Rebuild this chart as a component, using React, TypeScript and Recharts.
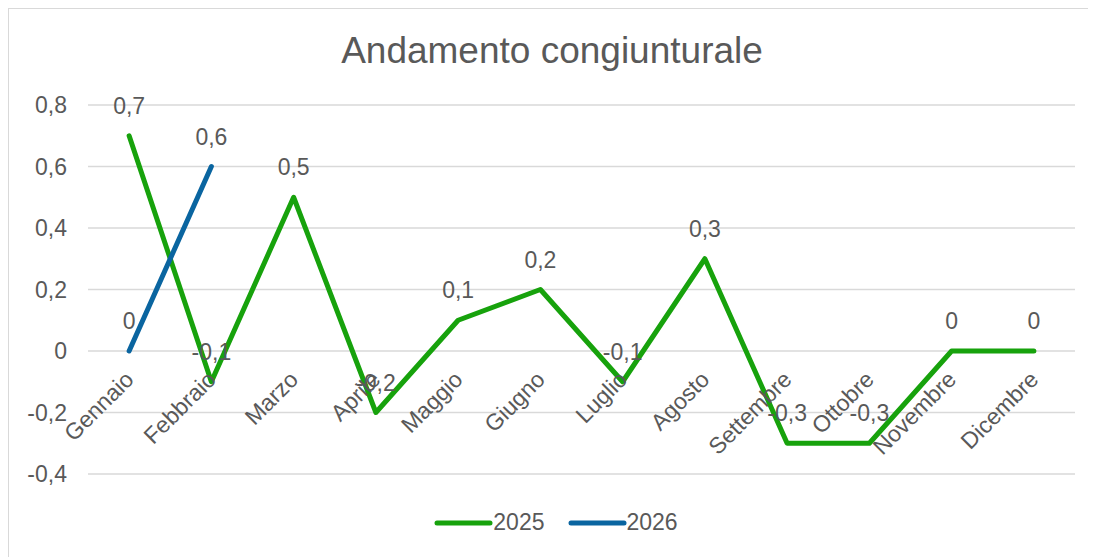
import { LineChart, Line, XAxis, YAxis, CartesianGrid, LabelList, Legend } from 'recharts';

const months = [
  'Gennaio', 'Febbraio', 'Marzo', 'Aprile', 'Maggio', 'Giugno',
  'Luglio', 'Agosto', 'Settembre', 'Ottobre', 'Novembre', 'Dicembre',
];
const values2025 = [0.7, -0.1, 0.5, -0.2, 0.1, 0.2, -0.1, 0.3, -0.3, -0.3, 0, 0];
const values2026: (number | null)[] = [0, 0.6, null, null, null, null, null, null, null, null, null, null];
const yTicks = [-0.4, -0.2, 0, 0.2, 0.4, 0.6, 0.8];

const data = months.map((m, i) => ({ month: m, y2025: values2025[i], y2026: values2026[i] }));

const W = 1086;
const H = 548;
const MARGIN = { top: 96, right: 20, left: 19, bottom: 82 };
const Y_MIN = -0.4;
const Y_MAX = 0.8;
const PLOT_H = H - MARGIN.top - MARGIN.bottom - 1;
// half a category on each side, like Excel's "between tick marks"
const HALF_BAND = (W - MARGIN.left - 60 - MARGIN.right) / months.length / 2;
// the category labels hang from the zero line, not from the bottom of the plot
const ZERO_Y = MARGIN.top + (PLOT_H * Y_MAX) / (Y_MAX - Y_MIN);

const TEXT = '#595959';
const FONT = '"Liberation Sans", Arial, sans-serif';
const GREEN = '#17A20C';
const BLUE = '#0A65A0';

const fmt = (v: any) => {
  if (v === null || v === undefined) return '';
  const n = Number(v);
  if (Math.abs(n) < 1e-9) return '0';
  return n.toFixed(1).replace('.', ',');
};

const MonthTick = ({ x, payload }: any) => {
  const ex = x + 6;
  const ey = ZERO_Y + 30;
  return (
    <text
      x={ex}
      y={ey}
      textAnchor="end"
      fill={TEXT}
      fontSize={23}
      fontFamily={FONT}
      transform={`rotate(-45, ${ex}, ${ey})`}
    >
      {payload.value}
    </text>
  );
};

const LegendContent = ({ payload }: any) => (
  <div style={{ display: 'flex', justifyContent: 'center', gap: 23, fontFamily: FONT, fontSize: 23, color: TEXT, paddingLeft: 8 }}>
    {(payload || []).map((p: any) => (
      <div key={p.value} style={{ display: 'flex', alignItems: 'center' }}>
        <svg width={59} height={10}>
          <line x1={3} y1={5} x2={56} y2={5} stroke={p.color} strokeWidth={5} strokeLinecap="round" />
        </svg>
        <span>{p.value}</span>
      </div>
    ))}
  </div>
);

export default function App() {
  return (
    <div style={{ position: 'relative', width: W, height: H, border: '1px solid #d9d9d9', background: '#fff' }}>
      <div
        style={{
          position: 'absolute', top: 20, left: 0, width: W, textAlign: 'center',
          fontFamily: FONT, fontSize: 37, color: TEXT, lineHeight: '44px',
        }}
      >
        Andamento congiunturale
      </div>
      <LineChart width={W} height={H} data={data} margin={MARGIN}>
        <CartesianGrid vertical={false} stroke="#d9d9d9" strokeWidth={1.5} />
        <XAxis
          dataKey="month"
          height={1}
          axisLine={false}
          tickLine={false}
          interval={0}
          padding={{ left: HALF_BAND, right: HALF_BAND }}
          tick={<MonthTick />}
        />
        <YAxis
          width={60}
          domain={[Y_MIN, Y_MAX]}
          ticks={yTicks}
          axisLine={false}
          tickLine={false}
          tickSize={0}
          tickMargin={21}
          tickFormatter={fmt}
          tick={{ fill: TEXT, fontSize: 23, fontFamily: FONT }}
        />
        <Legend
          layout="vertical"
          align="center"
          verticalAlign="middle"
          wrapperStyle={{ top: 500, left: 0, width: W }}
          content={<LegendContent />}
        />
        <Line
          name="2025"
          dataKey="y2025"
          stroke={GREEN}
          strokeWidth={5}
          strokeLinecap="round"
          strokeLinejoin="round"
          dot={false}
          activeDot={false}
          isAnimationActive={false}
        >
          <LabelList dataKey="y2025" position="top" offset={22} formatter={fmt} fill={TEXT} fontSize={23} fontFamily={FONT} />
        </Line>
        <Line
          name="2026"
          dataKey="y2026"
          stroke={BLUE}
          strokeWidth={5}
          strokeLinecap="round"
          strokeLinejoin="round"
          dot={false}
          activeDot={false}
          isAnimationActive={false}
        >
          <LabelList dataKey="y2026" position="top" offset={22} formatter={fmt} fill={TEXT} fontSize={23} fontFamily={FONT} />
        </Line>
      </LineChart>
    </div>
  );
}
